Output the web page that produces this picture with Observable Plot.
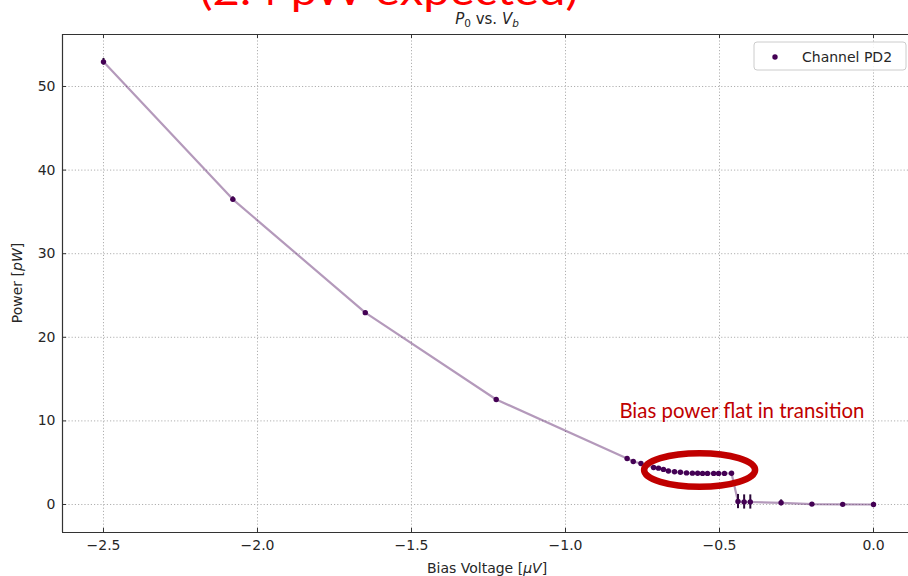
<!DOCTYPE html>
<html><head><meta charset="utf-8">
<script src="https://cdn.jsdelivr.net/npm/d3@7"></script>
<script src="https://cdn.jsdelivr.net/npm/@observablehq/plot@0.6"></script>
<style>
body{margin:0;background:#fff}
#chart{position:relative;width:908px;height:576px;overflow:hidden}
#chart svg{overflow:hidden}
</style>
</head><body><div id="chart"></div>
<script>
// ---- data ----
const voltage = [-2.5, -2.08, -1.65, -1.225, -0.80, -0.78, -0.755, -0.714, -0.698, -0.682, -0.666, -0.646, -0.627, -0.607, -0.588, -0.571, -0.555, -0.539, -0.519, -0.503, -0.484, -0.461, -0.44, -0.42, -0.40, -0.30, -0.20, -0.10, 0.0];
const power   = [52.95, 36.5, 22.95, 12.56, 5.5, 5.15, 4.9, 4.42, 4.35, 4.2, 4.0, 3.92, 3.85, 3.78, 3.75, 3.73, 3.72, 3.72, 3.72, 3.72, 3.72, 3.73, 0.35, 0.3, 0.3, 0.2, 0.05, 0.02, 0.0];
const powerErr = [0.4, 0.3, 0.15, 0.1, 0.1, 0.1, 0.1, 0.1, 0.1, 0.1, 0.1, 0.1, 0.1, 0.1, 0.1, 0.1, 0.1, 0.1, 0.1, 0.1, 0.1, 0.1, 0.85, 0.85, 0.85, 0.35, 0.15, 0.1, 0.1];
const xTicks = [-2.5, -2.0, -1.5, -1.0, -0.5, 0.0];
const yTicks = [0, 10, 20, 30, 40, 50];
const seriesName = "Channel PD2";
const annotationText = "Bias power flat in transition";
const annotationPos = [{v: -0.825, p: 10.4}];
const highlight = [{v: -0.563, p: 4.07}];
const headline = "(2.4 pW expected)";

const data = voltage.map((v, i) => ({v, p: power[i], e: powerErr[i]}));

const W = 908, H = 576, mL = 62, mT = 34, mB = 44, mR = 0;
const xDomain = [-2.6331, 0.1136];
const yDomain = [-3.35, 56.22];
const frameW = W - mL - mR, frameH = H - mT - mB;
const purple = "#440154";
const ink = "#262626";

const chart = Plot.plot({
  width: W, height: H,
  marginLeft: mL, marginTop: mT, marginBottom: mB, marginRight: mR,
  style: {fontFamily: "DejaVu Sans", fontSize: "14px", color: ink, background: "#fff"},
  x: {domain: xDomain},
  y: {domain: yDomain},
  marks: [
    Plot.ruleX(xTicks, {x: d => d, stroke: "#b0b0b0", strokeWidth: 1, strokeDasharray: "1.2,2"}),
    Plot.ruleY(yTicks, {y: d => d, stroke: "#b0b0b0", strokeWidth: 1, strokeDasharray: "1.2,2"}),
    Plot.line(data, {x: "v", y: "p", stroke: purple, strokeOpacity: 0.4, strokeWidth: 2.2}),
    Plot.ruleX(data, {x: "v", y1: d => d.p - d.e, y2: d => d.p + d.e, stroke: "#2a0838", strokeWidth: 2}),
    Plot.dot(data, {x: "v", y: "p", r: 2.7, fill: purple}),
    // frame (left, bottom, top)
    Plot.ruleX([xDomain[0]], {x: d => d, stroke: "#333", strokeWidth: 1.2}),
    Plot.ruleY(yDomain, {y: d => d, stroke: "#333", strokeWidth: 1.2}),
    // inward ticks
    Plot.tickX(xTicks, {x: d => d, insetTop: frameH - 4, stroke: "#333"}),
    Plot.tickX(xTicks, {x: d => d, insetBottom: frameH - 4, stroke: "#333"}),
    Plot.tickY(yTicks, {y: d => d, insetRight: frameW - 4, stroke: "#333"}),
    Plot.axisX({ticks: xTicks, tickSize: 0, tickPadding: 8, tickFormat: d3.format(".1f"), label: null}),
    Plot.axisY({ticks: yTicks, tickSize: 0, tickPadding: 7, label: null}),
    Plot.text(annotationPos, {x: "v", y: "p", text: () => annotationText, textAnchor: "start", lineAnchor: "bottom",
      fill: "#c00000", fontFamily: "Lato", fontSize: 20.4})
  ]
});

document.getElementById("chart").appendChild(chart);

const svg = d3.select(chart);
const xs = chart.scale("x"), ys = chart.scale("y");

// highlight ellipse around the flat region
svg.append("ellipse")
  .attr("cx", xs.apply(highlight[0].v)).attr("cy", ys.apply(highlight[0].p))
  .attr("rx", 55.5).attr("ry", 16.8)
  .attr("fill", "none").attr("stroke", "#c00000").attr("stroke-width", 6.5);

// headline (cut off at top)
svg.append("text")
  .attr("x", 200).attr("y", 5)
  .attr("text-anchor", "start").attr("dominant-baseline", "alphabetic")
  .attr("font-family", "Lato").attr("font-size", 40)
  .attr("fill", "#ff0000")
  .attr("textLength", 378).attr("lengthAdjust", "spacingAndGlyphs")
  .text(headline);

// title
const t = svg.append("text").attr("x", 487).attr("y", 24).attr("text-anchor", "middle")
  .attr("dominant-baseline", "alphabetic")
  .attr("font-family", "DejaVu Sans").attr("font-size", 15).attr("fill", ink);
t.append("tspan").attr("font-style", "italic").text("P");
t.append("tspan").attr("font-size", 10.5).attr("dy", 3).text("0");
t.append("tspan").attr("dy", -3).text(" vs. ");
t.append("tspan").attr("font-style", "italic").text("V");
t.append("tspan").attr("font-style", "italic").attr("font-size", 10.5).attr("dy", 3).text("b");

// x label
const xl = svg.append("text").attr("x", 487).attr("y", 573).attr("text-anchor", "middle")
  .attr("font-family", "DejaVu Sans").attr("font-size", 14).attr("fill", ink);
xl.append("tspan").text("Bias Voltage [");
xl.append("tspan").attr("font-style", "italic").text("\u03bcV");
xl.append("tspan").text("]");

// y label
const yl = svg.append("text").attr("transform", "translate(22,283) rotate(-90)").attr("text-anchor", "middle")
  .attr("font-family", "DejaVu Sans").attr("font-size", 14).attr("fill", ink);
yl.append("tspan").text("Power [");
yl.append("tspan").attr("font-style", "italic").text("pW");
yl.append("tspan").text("]");

// legend
const lg = svg.append("g");
lg.append("rect").attr("x", 754).attr("y", 42).attr("width", 152).attr("height", 28).attr("rx", 3)
  .attr("fill", "#fff").attr("fill-opacity", 0.85).attr("stroke", "#cccccc");
lg.append("circle").attr("cx", 775).attr("cy", 57).attr("r", 2.7).attr("fill", purple);
lg.append("text").attr("x", 802).attr("y", 57).attr("dy", "0.35em").attr("text-anchor", "start")
  .attr("font-family", "DejaVu Sans").attr("font-size", 14).attr("fill", ink).text(seriesName);
</script>
</body></html>
